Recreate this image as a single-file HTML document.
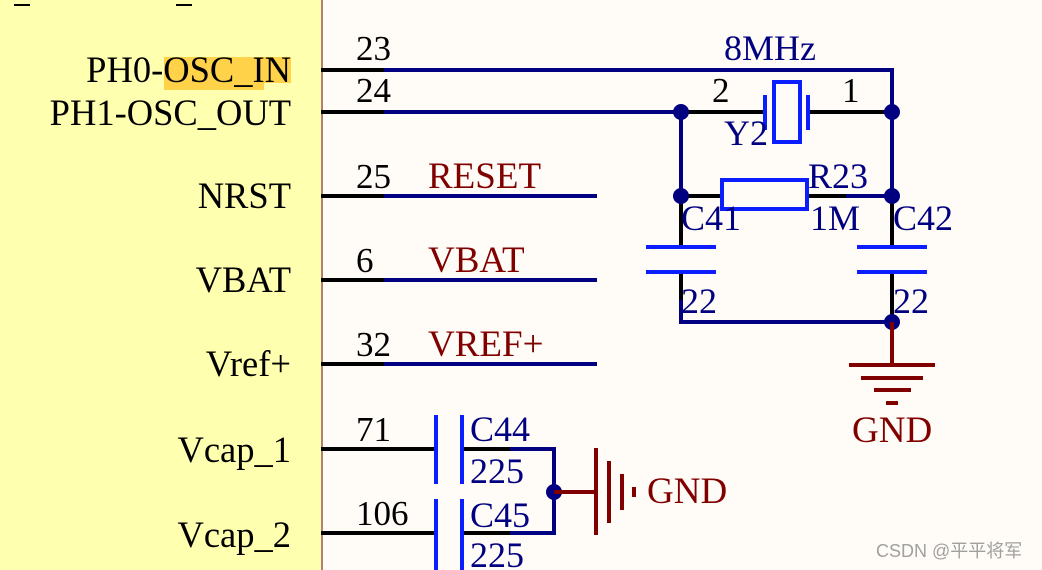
<!DOCTYPE html>
<html><head><meta charset="utf-8"><style>
html,body{margin:0;padding:0;background:#fffcf7;width:1042px;height:570px;overflow:hidden;}
svg{display:block;}
text{font-family:"Liberation Serif",serif;}
</style></head><body>
<svg width="1042" height="570" viewBox="0 0 1042 570" xmlns="http://www.w3.org/2000/svg" overflow="hidden">
<rect x="0" y="0" width="1042" height="570" fill="#fffcf7"/>
<rect x="0" y="0" width="322" height="570" fill="#ffffb0"/>
<line x1="322" y1="0" x2="322" y2="570" stroke="#b08070" stroke-width="2"/>
<line x1="14" y1="5" x2="30" y2="5" stroke="#000" stroke-width="2"/>
<line x1="176" y1="5" x2="192" y2="5" stroke="#000" stroke-width="2"/>
<rect x="164" y="57" width="100" height="33" fill="#ffd24a"/>
<rect x="264" y="57" width="27" height="26" fill="#ffd24a"/>
<g font-size="36.5" fill="#000" text-anchor="end">
<text x="291" y="82">PH0-OSC_IN</text>
<text x="291" y="125">PH1-OSC_OUT</text>
<text x="291" y="208">NRST</text>
<text x="291" y="292">VBAT</text>
<text x="291" y="376">Vref+</text>
<text x="291" y="462">Vcap_1</text>
<text x="291" y="547">Vcap_2</text>
</g>
<g font-size="35" fill="#000">
<text x="356" y="60">23</text>
<text x="356" y="102">24</text>
<text x="356" y="188">25</text>
<text x="356" y="272">6</text>
<text x="356" y="356">32</text>
<text x="356" y="441">71</text>
<text x="356" y="525">106</text>
</g>
<g font-size="37" fill="#800000">
<text x="428" y="188">RESET</text>
<text x="428" y="272">VBAT</text>
<text x="428" y="356">VREF+</text>
</g>
<g stroke="#000" stroke-width="4">
<line x1="321" y1="70" x2="386" y2="70"/>
<line x1="321" y1="112" x2="386" y2="112"/>
<line x1="321" y1="196" x2="386" y2="196"/>
<line x1="321" y1="280" x2="386" y2="280"/>
<line x1="321" y1="364" x2="386" y2="364"/>
<line x1="321" y1="449" x2="434" y2="449"/>
<line x1="321" y1="533" x2="434" y2="533"/>
<line x1="464" y1="449" x2="512" y2="449"/>
<line x1="464" y1="533" x2="512" y2="533"/>
<line x1="681" y1="112" x2="765" y2="112"/>
<line x1="808" y1="112" x2="892" y2="112"/>
<line x1="681" y1="196" x2="722" y2="196"/>
<line x1="807" y1="196" x2="848" y2="196"/>
<line x1="681" y1="196" x2="681" y2="246"/>
<line x1="892" y1="196" x2="892" y2="246"/>
<line x1="681" y1="274" x2="681" y2="322"/>
<line x1="892" y1="274" x2="892" y2="322"/>
</g>
<g stroke="#000080" stroke-width="4" fill="none">
<polyline points="384,70 892,70 892,112"/>
<line x1="384" y1="112" x2="682" y2="112"/>
<line x1="384" y1="196" x2="597" y2="196"/>
<line x1="384" y1="280" x2="597" y2="280"/>
<line x1="384" y1="364" x2="597" y2="364"/>
<line x1="681" y1="112" x2="681" y2="196"/>
<line x1="892" y1="112" x2="892" y2="196"/>
<line x1="846" y1="196" x2="892" y2="196"/>
<polyline points="681,300 681,322 892,322"/>
<polyline points="510,449 554,449 554,533 510,533"/>
</g>
<g fill="#000080">
<circle cx="681" cy="112" r="8"/><circle cx="892" cy="112" r="8"/>
<circle cx="681" cy="196" r="8"/><circle cx="892" cy="196" r="8"/>
<circle cx="892" cy="322" r="8"/><circle cx="554" cy="492" r="8"/>
</g>
<g stroke="#0a1eff" stroke-width="4" fill="none">
<line x1="765" y1="95" x2="765" y2="130"/>
<line x1="808" y1="95" x2="808" y2="130"/>
<rect x="774" y="82" width="26" height="60"/>
<rect x="722" y="180" width="85" height="29"/>
<line x1="646" y1="247" x2="716" y2="247"/>
<line x1="646" y1="272" x2="716" y2="272"/>
<line x1="857" y1="247" x2="927" y2="247"/>
<line x1="857" y1="272" x2="927" y2="272"/>
<line x1="436" y1="415" x2="436" y2="484"/>
<line x1="462" y1="415" x2="462" y2="484"/>
<line x1="436" y1="499" x2="436" y2="570"/>
<line x1="462" y1="499" x2="462" y2="570"/>
</g>
<g stroke="#800000" stroke-width="4">
<line x1="892" y1="322" x2="892" y2="365"/>
<line x1="849" y1="365" x2="935" y2="365"/>
<line x1="861" y1="378" x2="923" y2="378"/>
<line x1="874" y1="390" x2="911" y2="390"/>
<line x1="886" y1="403" x2="898" y2="403"/>
<line x1="554" y1="492" x2="596" y2="492"/>
<line x1="596" y1="448" x2="596" y2="535"/>
<line x1="609" y1="461" x2="609" y2="523"/>
<line x1="622" y1="474" x2="622" y2="510"/>
<line x1="634" y1="487" x2="634" y2="497"/>
</g>
<g font-size="37" fill="#800000">
<text x="852" y="442">GND</text>
<text x="647" y="503">GND</text>
</g>
<g font-size="36" fill="#000080">
<text x="724" y="60">8MHz</text>
<text x="724" y="145">Y2</text>
<text x="808" y="188">R23</text>
<text x="681" y="230">C41</text>
<text x="810" y="230">1M</text>
<text x="893" y="230">C42</text>
<text x="681" y="313">22</text>
<text x="893" y="313">22</text>
<text x="470" y="441">C44</text>
<text x="470" y="483">225</text>
<text x="470" y="527">C45</text>
<text x="470" y="567">225</text>
</g>
<g font-size="35" fill="#000">
<text x="712" y="102">2</text>
<text x="842" y="102">1</text>
</g>
<text x="876" y="557" font-size="18" fill="#a0a0a0" style="font-family:'Liberation Sans','Noto Sans CJK SC',sans-serif">CSDN @平平将军</text>
</svg>
</body></html>
